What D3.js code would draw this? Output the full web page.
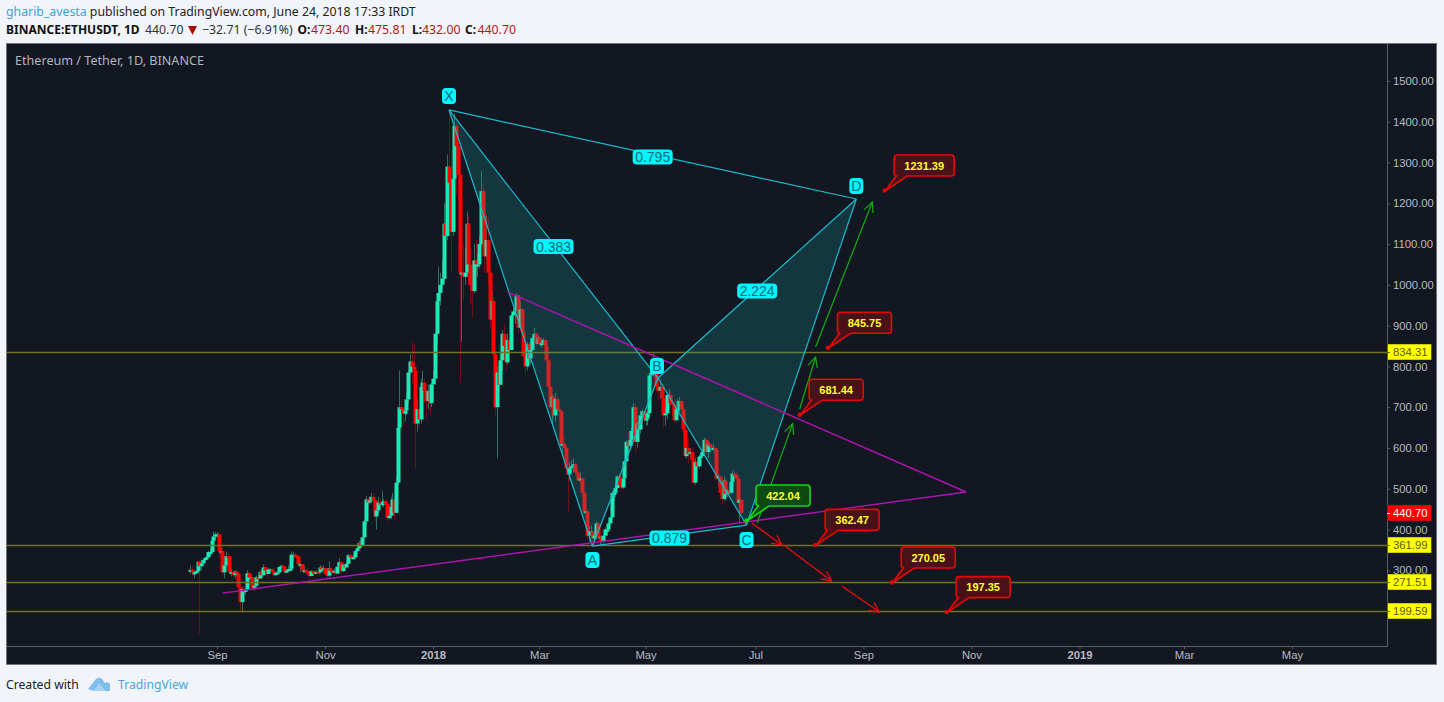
<!DOCTYPE html>
<html><head><meta charset="utf-8">
<script src="https://cdnjs.cloudflare.com/ajax/libs/d3/7.8.5/d3.min.js"></script>
<style>
html,body{margin:0;padding:0;background:#f1f4f8;overflow:hidden}
svg{display:block}
text{font-family:"Liberation Sans",Arial,sans-serif}
.hd text,.hd{font-family:"Noto Sans",sans-serif}
</style></head><body>
<svg id="c" width="1444" height="702"></svg>
<script>
// Daily candles: first day 2017-08-17, last day 2018-06-24
const firstDay = "2017-08-17";
const firstOpen = 301;
const closes = [
 301,295,295,298,321,310,317,325,330,332,345,345,372,383,388,
 388,346,347,295,312,335,334,296,296,288,297,292,258,222,254,247,253,293,282,283,257,262,283,280,296,288,307,300,291,302,
 302,296,291,293,295,308,311,309,297,299,303,304,338,338,335,334,315,315,300,300,298,295,286,298,296,295,296,295,307,305,305,
 291,287,305,298,296,299,292,309,320,298,314,307,316,337,333,330,332,347,354,367,361,381,420,474,466,471,480,472,432,447,
 466,463,465,470,463,428,434,456,473,441,515,650,700,695,684,692,719,785,812,799,790,660,695,670,750,760,740,715,740,710,756,
 770,880,960,980,1000,1015,1150,1120,1290,1250,1130,1260,1390,1340,1270,1030,1030,1020,1030,1150,1050,1000,985,1060,1050,1050,1100,1230,1170,1070,1110,
 1030,915,960,830,700,785,755,815,880,850,810,865,840,925,935,940,975,895,940,885,825,800,855,820,840,870,880,855,
 870,855,857,865,850,815,750,700,725,680,720,695,690,610,610,600,550,535,550,555,560,540,535,520,525,490,445,445,385,395,395,
 378,385,415,380,382,370,385,400,400,415,430,490,490,502,530,510,503,525,567,615,605,620,642,700,615,660,645,680,690,670,
 672,685,778,785,815,790,750,740,750,722,680,685,730,730,710,705,668,695,695,715,695,645,580,600,585,590,570,515,565,555,578,
 580,590,620,590,610,605,600,600,595,525,530,490,475,520,487,497,490,517,537,535,525,465,473,440.7
];
const highs = [
 312,311,300,300,322,320,326,330,333,335,348,352,374,395,394,
 394,393,355,355,320,345,343,337,304,300,300,302,295,267,260,262,256,300,297,290,284,268,287,290,299,302,314,314,296,305,
 305,304,296,298,297,310,315,314,311,300,312,308,347,345,342,340,336,319,315,310,305,302,298,300,298,300,300,299,313,310,312,
 308,305,322,308,300,305,305,320,330,322,316,318,322,340,340,335,337,350,360,372,372,382,425,483,478,482,490,490,475,470,
 480,475,495,475,475,465,440,480,490,475,530,660,790,720,700,700,735,790,830,860,855,800,720,700,770,790,770,745,755,750,760,
 790,885,975,1045,1030,1060,1200,1200,1320,1420,1330,1280,1420,1400,1370,1300,1080,1100,1090,1180,1170,1090,1060,1100,1110,1075,1120,1280,1250,1180,1170,
 1165,1040,985,970,840,800,850,830,890,905,860,880,870,930,945,950,980,975,960,945,895,840,860,860,865,875,895,885,
 875,875,870,870,860,855,820,760,730,730,735,725,705,695,620,630,605,555,565,570,575,565,545,545,540,530,495,470,450,410,410,
 385,392,420,420,385,385,390,405,410,420,432,495,495,515,535,535,515,530,570,620,640,635,650,710,710,665,665,690,695,690,
 690,690,785,795,835,830,795,765,765,755,725,700,735,745,740,720,720,715,720,725,720,705,650,615,625,600,600,575,575,575,585,
 590,595,625,625,615,615,610,610,605,600,535,530,505,530,525,500,510,520,545,545,540,528,478,475.81
];
const lows = [
 292,285,280,290,293,144,300,310,321,325,330,335,340,365,375,
 380,330,325,285,280,310,325,290,285,280,280,285,250,197,195,240,240,250,280,275,252,250,260,275,280,285,285,295,280,290,
 295,288,284,288,290,293,305,305,294,295,296,298,302,322,330,328,311,295,295,295,290,289,275,285,290,290,292,292,292,298,301,
 288,280,282,292,292,293,288,291,306,290,296,300,305,316,325,325,328,330,345,352,345,357,378,410,450,462,465,455,420,400,
 440,455,455,455,460,420,425,425,450,420,440,510,630,640,655,665,680,710,780,755,740,550,640,650,660,735,710,670,695,680,700,
 715,755,855,900,950,990,1010,1070,1110,1130,1030,1120,1255,1220,1200,760,860,960,1000,1020,1000,950,920,980,1020,1020,1040,1095,1145,1030,1060,
 1000,890,905,820,680,575,730,755,790,830,790,805,830,840,920,905,935,880,890,880,820,780,790,805,805,840,865,850,
 855,850,845,855,845,815,740,695,655,670,665,690,670,610,580,590,535,445,520,540,540,530,520,525,515,480,440,440,375,370,380,
 355,365,375,370,362,360,365,385,385,395,410,425,470,480,500,500,495,500,525,565,590,600,615,635,590,600,635,635,665,665,
 655,655,675,755,775,775,735,715,720,710,650,655,670,710,700,680,660,665,690,690,695,630,575,575,560,575,560,510,510,535,550,
 565,575,590,585,575,590,590,592,590,520,505,483,460,470,470,480,485,485,510,525,520,455,415,432
];
// Harmonic pattern points
const patternNames = ["X","A","B","C","D"];
const patternDates = ["2018-01-10","2018-04-01","2018-05-08","2018-06-27","2018-08-28"];
const patternPrices = [1429,359.5,771.5,411,1210.6];
const ratioLabels = [["X","D","0.795"],["X","B","0.383"],["B","D","2.224"],["A","C","0.879"]];
// Support levels with yellow axis tags
const levels = [834.31,361.99,271.51,199.59];
const lastPrice = 440.70;
// Trend lines (purple triangle)
const trendLines = [
 ["2018-02-12",982.5,"2018-10-29",492],
 ["2017-09-04",244,"2018-10-29",492]
];
// Arrows
const greenArrows = [
 ["2018-07-03",416,"2018-07-23",659],
 ["2018-07-27",695.5,"2018-08-05",823],
 ["2018-08-05",847.6,"2018-09-06",1203]
];
const redArrows = [
 ["2018-06-30",416,"2018-07-17",362],
 ["2018-07-18",362,"2018-08-14",273.6],
 ["2018-08-20",261,"2018-09-10",197.6]
];
// Target callouts: value is also the anchor price
const calloutDates = ["2018-06-27","2018-08-05","2018-09-17","2018-10-18","2018-09-13","2018-08-12","2018-07-27"];
const calloutValues = [422.04,362.47,270.05,197.35,1231.39,845.75,681.44];
const calloutKinds = ["green","red","red","red","red","red","red"];
// Axes
const priceTicks = [300,400,500,600,700,800,900,1000,1100,1200,1300,1400,1500];
const timeTickDates = ["2017-09-01","2017-11-01","2018-01-01","2018-03-02","2018-05-01","2018-07-02","2018-09-01","2018-11-01","2019-01-01","2019-03-01","2019-05-01"];
const timeTickLabels = ["Sep","Nov","2018","Mar","May","Jul","Sep","Nov","2019","Mar","May"];

const W=1444,H=702;
const pane={l:7,t:44,r:1437,b:665,axisX:1387,axisY:646};
const UP="#1de9b6",DOWN="#ff0000";
const dt=s=>new Date(s+"T00:00:00Z");
const x=d3.scaleUtc().domain([dt("2017-09-01"),dt("2019-05-01")]).range([217,1292]);
const y=d3.scaleLinear().domain([1500,300]).range([81,570.3]);
const svg=d3.select("#c");

svg.append("rect").attr("width",W).attr("height",H).attr("fill","#f1f4f8");
svg.append("rect").attr("x",pane.l-.5).attr("y",pane.t-.5).attr("width",pane.r-pane.l).attr("height",pane.b-pane.t)
  .attr("fill","#131722").attr("stroke","#70747c");
svg.append("path").attr("d",`M${pane.axisX+.5},${pane.t}V${pane.axisY+.5}H${pane.l}`).attr("fill","none").attr("stroke","#5a5e66");

// Header
const hd=svg.append("g").attr("class","hd").attr("font-size",12.3);
const hdt=(xp,yp,t,fill,w,fs)=>hd.append("text").attr("x",xp).attr("y",yp).attr("fill",fill).attr("font-weight",w||400).attr("font-size",fs||12.3).text(t);
const t1=hd.append("text").attr("x",6).attr("y",15.5).attr("fill","#222");
t1.append("tspan").attr("fill","#3ba4dc").text("gharib_avesta");
t1.append("tspan").text(" published on TradingView.com, June 24, 2018 17:33 IRDT");
hdt(6,34,"BINANCE:ETHUSDT, 1D","#111",700,12);
hdt(145,34,"440.70","#333");
hd.append("path").attr("d","M188,26H197L192.5,35Z").attr("fill","#a80d0d");
hdt(202,34,"−32.71 (−6.91%)","#333");
[["O:",297.5,"473.40",311],["H:",355,"475.81",368],["L:",412,"432.00",422],["C:",465,"440.70",477.5]].forEach(r=>{
  hdt(r[1],34,r[0],"#111",700,12);hdt(r[3],34,r[2],"#b01818");
});
hd.append("text").attr("x",15).attr("y",64.5).attr("fill","#b2b5be").attr("font-size",12.6).text("Ethereum / Tether, 1D, BINANCE");

// Footer
hd.append("text").attr("x",6).attr("y",689).attr("fill","#222").attr("font-size",12.2).text("Created with");
svg.append("path").attr("d","M88,689L96,679Q99,676 102,679L105,683Q108,681 110,684L110,691H105L99,684L94,691Z").attr("fill","#7fbdea");
svg.append("path").attr("d","M94,691L99,684L105,691Z").attr("fill","#a9d4f3");
hd.append("text").attr("x",118).attr("y",689).attr("fill","#4aa3df").attr("font-size",12.2).text("TradingView");

// Candles
const start=dt(firstDay);
const candles=closes.map((c,i)=>({
  date:d3.utcDay.offset(start,i),
  open:i?closes[i-1]:firstOpen,close:c,high:highs[i],low:lows[i]
}));
const gC=svg.append("g");
gC.selectAll("line").data(candles).join("line")
  .attr("x1",d=>Math.round(x(d.date))+.5).attr("x2",d=>Math.round(x(d.date))+.5)
  .attr("y1",d=>y(d.high)).attr("y2",d=>y(d.low))
  .attr("stroke",d=>d.close>=d.open?"#2a6f60":"#6e1018").attr("stroke-width",1);
gC.selectAll("rect").data(candles).join("rect")
  .attr("x",d=>Math.round(x(d.date))-1.5).attr("width",4)
  .attr("y",d=>y(Math.max(d.open,d.close)))
  .attr("height",d=>Math.max(2,Math.abs(y(d.open)-y(d.close))))
  .attr("fill",d=>d.close>=d.open?UP:DOWN);

// Horizontal levels
svg.append("g").selectAll("line").data(levels).join("line")
  .attr("x1",pane.l).attr("x2",pane.axisX).attr("y1",d=>Math.round(y(d))+.5).attr("y2",d=>Math.round(y(d))+.5)
  .attr("stroke","#72721f").attr("stroke-width",1.5);

// Pattern
const P={};patternNames.forEach((n,i)=>P[n]=[x(dt(patternDates[i])),y(patternPrices[i])]);
const gP=svg.append("g");
[["X","A","B"],["B","C","D"]].forEach(t=>{
  gP.append("polygon").attr("points",t.map(n=>P[n].join(",")).join(" ")).attr("fill","rgba(20,200,200,.18)");
});
[["X","A"],["A","B"],["B","C"],["C","D"],["X","B"],["B","D"],["X","D"],["A","C"]].forEach(e=>{
  gP.append("line").attr("x1",P[e[0]][0]).attr("y1",P[e[0]][1]).attr("x2",P[e[1]][0]).attr("y2",P[e[1]][1])
   .attr("stroke","#18bccb").attr("stroke-width",1.2);
});

// Trend lines
svg.append("g").selectAll("line").data(trendLines).join("line")
  .attr("x1",d=>x(dt(d[0]))).attr("y1",d=>y(d[1])).attr("x2",d=>x(dt(d[2]))).attr("y2",d=>y(d[3]))
  .attr("stroke","#ad14ad").attr("stroke-width",1.4);

// Pattern labels
function tag(cx,cy,w,h,t,fs){
  const g=svg.append("g");
  g.append("rect").attr("x",cx-w/2).attr("y",cy-h/2).attr("width",w).attr("height",h).attr("rx",4).attr("fill","#00f7ff");
  g.append("text").attr("x",cx).attr("y",cy+fs*.36).attr("text-anchor","middle").attr("font-size",fs).attr("fill","#0d6a74").text(t);
}
ratioLabels.forEach(r=>{
  const a=P[r[0]],b=P[r[1]];
  tag((a[0]+b[0])/2,(a[1]+b[1])/2+2.5,40,15,r[2],14);
});
const letterOffset={X:[0,-14],A:[0,14],B:[-1,-12],C:[0,15],D:[0,-13]};
patternNames.forEach(n=>tag(P[n][0]+letterOffset[n][0],P[n][1]+letterOffset[n][1],14,16,n,14));

// Arrows
function arrow(a,col,w){
  const x1=x(dt(a[0])),y1=y(a[1]),x2=x(dt(a[2])),y2=y(a[3]);
  const ang=Math.atan2(y2-y1,x2-x1),L=11,s=.45;
  const g=svg.append("g").attr("fill","none").attr("stroke",col).attr("stroke-width",w);
  g.append("line").attr("x1",x1).attr("y1",y1).attr("x2",x2).attr("y2",y2);
  g.append("path").attr("d",`M${x2-L*Math.cos(ang-s)},${y2-L*Math.sin(ang-s)}L${x2},${y2}L${x2-L*Math.cos(ang+s)},${y2-L*Math.sin(ang+s)}`);
}
greenArrows.forEach(a=>arrow(a,"#10b010",1.2));
redArrows.forEach(a=>arrow(a,"#f00a0a",1.3));

// Callouts
const kinds={
 red:{stroke:"#e60808",fill:"#4a1218"},
 green:{stroke:"#0fdc0f",fill:"#0d4a12"}
};
calloutValues.forEach((v,i)=>{
  const ax=x(dt(calloutDates[i])),ay=y(v),k=kinds[calloutKinds[i]];
  const bx=ax+9.5,by=ay-35.5,bw=v>=1000?60:54,bh=21,r=3;
  const d=`M${bx+r},${by}H${bx+bw-r}Q${bx+bw},${by} ${bx+bw},${by+r}V${by+bh-r}Q${bx+bw},${by+bh} ${bx+bw-r},${by+bh}`+
          `H${bx+13}L${ax+1},${ay}L${bx+2},${by+bh}H${bx+r}Q${bx},${by+bh} ${bx},${by+bh-r}V${by+r}Q${bx},${by} ${bx+r},${by}Z`;
  const g=svg.append("g");
  g.append("path").attr("d",d).attr("fill",k.fill).attr("stroke",k.stroke).attr("stroke-width",1.6);
  g.append("circle").attr("cx",ax).attr("cy",ay).attr("r",2.2).attr("fill",k.stroke);
  g.append("text").attr("x",bx+bw/2).attr("y",by+bh/2+4).attr("text-anchor","middle")
    .attr("font-size",11).attr("font-weight",700).attr("fill","#ffff33").text(v.toFixed(2));
});

// Axes
const axR=d3.axisRight(y).tickValues(priceTicks).tickFormat(d3.format(".2f")).tickSize(3).tickPadding(3);
const gy=svg.append("g").attr("transform",`translate(${pane.axisX},0)`).call(axR);
gy.select(".domain").remove();
gy.selectAll("text").attr("font-size",11.3).attr("fill","#b7bac1");
gy.selectAll("line").attr("stroke","#5a5e66");
const axB=d3.axisBottom(x).tickValues(timeTickDates.map(dt)).tickFormat((d,i)=>timeTickLabels[i]).tickSize(3).tickPadding(2);
const gx=svg.append("g").attr("transform",`translate(0,${pane.axisY})`).call(axB);
gx.select(".domain").remove();
gx.selectAll("text").attr("font-size",11.3).attr("fill","#b7bac1")
  .attr("font-weight",(d,i)=>/^20/.test(timeTickLabels[i])?700:400);
gx.selectAll("line").attr("stroke","#5a5e66");

// Axis tags
function axisTag(v,bg,fg){
  const yy=Math.round(y(v));
  svg.append("rect").attr("x",pane.axisX+.5).attr("y",yy-8).attr("width",44).attr("height",16).attr("fill",bg).attr("stroke","#26282e").attr("stroke-width",.5);
  svg.append("line").attr("x1",pane.axisX).attr("x2",pane.axisX+3).attr("y1",yy+.5).attr("y2",yy+.5).attr("stroke",fg);
  svg.append("text").attr("x",pane.axisX+6).attr("y",yy+4).attr("font-size",11.3).attr("fill",fg).text(v.toFixed(2));
}
axisTag(lastPrice,"#ff0000","#ffffff");
levels.forEach(l=>axisTag(l,"#ffff00","#5a5a1e"));
</script></body></html>
